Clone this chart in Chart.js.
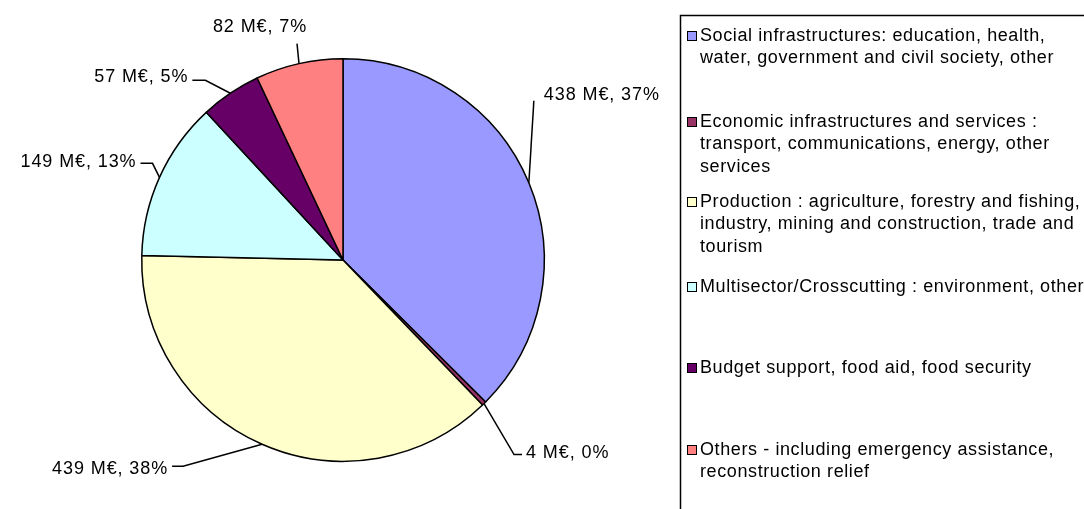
<!DOCTYPE html>
<html>
<head>
<meta charset="utf-8">
<script src="https://cdn.jsdelivr.net/npm/chart.js@4.4.1/dist/chart.umd.min.js"></script>
<style>
  html, body { margin: 0; padding: 0; background: #fff; }
  #wrap { width: 1084px; height: 509px; }
</style>
</head>
<body>
<div id="wrap"><canvas id="mychart" width="1084" height="509"></canvas></div>
<script>
'use strict';

// sector names (legend text, split the way the legend wraps)
const sectors = [
    ['Social infrastructures: education, health,', 'water, government and civil society, other'],
    ['Economic infrastructures and services :', 'transport, communications, energy, other', 'services'],
    ['Production : agriculture, forestry and fishing,', 'industry, mining and construction, trade and', 'tourism'],
    ['Multisector/Crosscutting : environment, other'],
    ['Budget support, food aid, food security'],
    ['Others - including emergency assistance,', 'reconstruction relief'],
];
// amounts in M€
const amounts = [438, 4, 439, 149, 57, 82];
const colours = ['#9999FF', '#993366', '#FFFFCC', '#CCFFFF', '#660066', '#FF8080'];

// where the data labels sit relative to their slice (leader elbow, tail, text anchor)
const labelLayout = [
    { dx: 5,   dy: -82, tail: 0,   tx: 10,  ty: -6,  align: 'left' },
    { dx: 30,  dy: 51,  tail: 8,   tx: 4,   ty: -2,  align: 'left' },
    { dx: -79, dy: 22,  tail: -11, tx: -4,  ty: 3,   align: 'right' },
    { dx: -7,  dy: -14, tail: -12, tx: -4,  ty: -1,  align: 'right' },
    { dx: -25, dy: -13, tail: -13, tx: -4,  ty: -3,  align: 'right' },
    { dx: -2,  dy: -20, tail: 0,   tx: -37, ty: -17, align: 'center' },
];
const legendRowY = [36, 122, 202, 287, 368, 450];
const legendLineH = 22.5;

const total = amounts.reduce((a, b) => a + b, 0);
const FONT = '"Liberation Sans", Arial, sans-serif';

const sliceLabels = {
    id: 'sliceLabels',
    afterDatasetsDraw(chart) {
        const ctx = chart.ctx;
        const arcs = chart.getDatasetMeta(0).data;
        ctx.save();
        ctx.strokeStyle = '#000';
        ctx.lineWidth = 1.5;
        ctx.fillStyle = '#000';
        ctx.font = '18px ' + FONT;
        ctx.letterSpacing = '0.9px';
        ctx.textBaseline = 'middle';
        arcs.forEach((arc, i) => {
            const p = arc.getProps(['x', 'y', 'startAngle', 'endAngle', 'outerRadius'], true);
            const mid = (p.startAngle + p.endAngle) / 2;
            const px = p.x + Math.cos(mid) * p.outerRadius;
            const py = p.y + Math.sin(mid) * p.outerRadius;
            const L = labelLayout[i];
            const ex = px + L.dx, ey = py + L.dy;
            const tx = ex + L.tail;
            ctx.beginPath();
            ctx.moveTo(px, py);
            ctx.lineTo(ex, ey);
            ctx.lineTo(tx, ey);
            ctx.stroke();
            const pct = Math.round(amounts[i] / total * 100);
            ctx.textAlign = L.align;
            ctx.fillText(amounts[i] + ' M€, ' + pct + '%', tx + L.tx, ey + L.ty);
        });
        ctx.restore();
    }
};

const sideLegend = {
    id: 'sideLegend',
    afterDraw(chart) {
        const ctx = chart.ctx;
        ctx.save();
        ctx.strokeStyle = '#000';
        ctx.lineWidth = 1.5;
        ctx.strokeRect(680.5, 15.5, 600, 600);
        ctx.font = '18px ' + FONT;
        ctx.letterSpacing = '0.6px';
        ctx.textBaseline = 'middle';
        ctx.textAlign = 'left';
        sectors.forEach((lines, i) => {
            const y0 = legendRowY[i];
            ctx.fillStyle = colours[i];
            ctx.fillRect(687, y0 - 4.5, 9, 9);
            ctx.lineWidth = 1;
            ctx.strokeRect(687.5, y0 - 4.5, 9, 9);
            ctx.fillStyle = '#000';
            lines.forEach((t, k) => ctx.fillText(t, 700, y0 + k * legendLineH));
        });
        ctx.restore();
    }
};

new Chart(document.getElementById('mychart'), {
    type: 'pie',
    data: {
        labels: sectors.map(s => s.join(' ')),
        datasets: [{
            data: amounts,
            backgroundColor: colours,
            borderColor: '#000',
            borderWidth: 1.5,
        }],
    },
    options: {
        responsive: false,
        animation: false,
        devicePixelRatio: 1,
        layout: { padding: { left: 141, right: 539, top: 58, bottom: 47 } },
        plugins: {
            legend: { display: false },
            tooltip: { enabled: false },
        },
    },
    plugins: [sliceLabels, sideLegend],
});
</script>
</body>
</html>
